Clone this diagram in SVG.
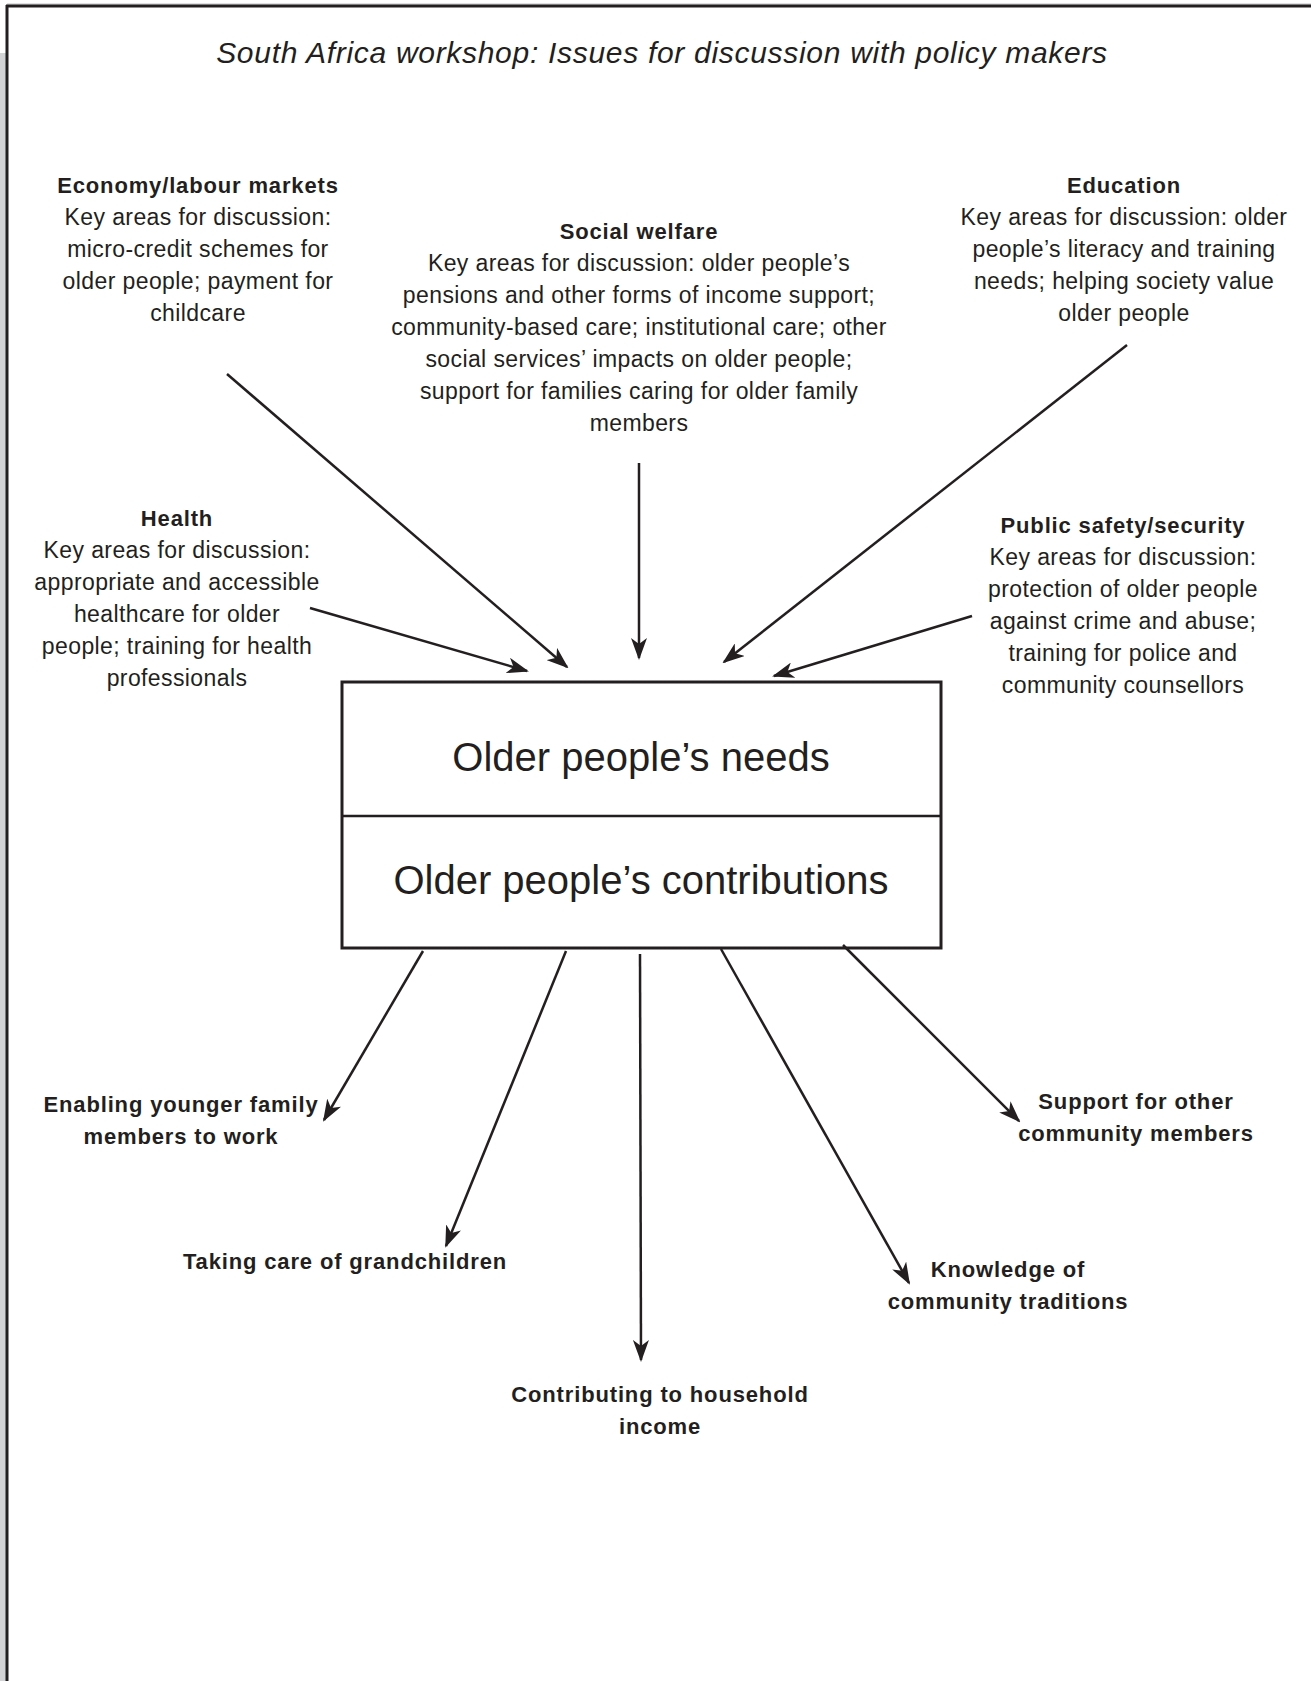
<svg xmlns="http://www.w3.org/2000/svg" width="1311" height="1681" viewBox="0 0 1311 1681">
<style>
text{font-family:"Liberation Sans",Arial,sans-serif;fill:#231f20;text-anchor:middle}
.t{font-size:30px;font-style:italic;letter-spacing:0.7px}
.h{font-size:22px;font-weight:bold;letter-spacing:0.85px}
.b{font-size:23px;letter-spacing:0.4px}
.big{font-size:40px}
.c{stroke:#231f20;stroke-width:2.5;fill:none;marker-end:url(#ah)}
.box{fill:#fff;stroke:#231f20;stroke-width:3}
</style>
<defs>
<marker id="ah" markerUnits="userSpaceOnUse" viewBox="0 0 22 16" refX="20" refY="8" markerWidth="22" markerHeight="16" orient="auto">
<path d="M0,0 L22,8 L0,16 L6,8 Z" fill="#231f20"/>
</marker>
</defs>
<rect width="1311" height="1681" fill="#fff"/>
<g id="frame">
<rect x="0" y="53" width="6" height="1628" fill="#d1d3d4"/>
<line x1="7" y1="4" x2="1311" y2="4" stroke="#bcbec0" stroke-width="1"/>
<line x1="6" y1="6" x2="1311" y2="6" stroke="#231f20" stroke-width="3"/>
<line x1="7" y1="5" x2="7" y2="1681" stroke="#231f20" stroke-width="3"/>
</g>
<g id="title"><text class="t" x="662" y="63">South Africa workshop: Issues for discussion with policy makers</text></g>
<g id="economy">
<text class="h" x="198" y="193">Economy/labour markets</text>
<text class="b" x="198" y="225">Key areas for discussion:</text>
<text class="b" x="198" y="257">micro-credit schemes for</text>
<text class="b" x="198" y="289">older people; payment for</text>
<text class="b" x="198" y="321">childcare</text>
</g>
<g id="social">
<text class="h" x="639" y="239">Social welfare</text>
<text class="b" x="639" y="271">Key areas for discussion: older people’s</text>
<text class="b" x="639" y="303">pensions and other forms of income support;</text>
<text class="b" x="639" y="335">community-based care; institutional care; other</text>
<text class="b" x="639" y="367">social services’ impacts on older people;</text>
<text class="b" x="639" y="399">support for families caring for older family</text>
<text class="b" x="639" y="431">members</text>
</g>
<g id="education">
<text class="h" x="1124" y="193">Education</text>
<text class="b" x="1124" y="225">Key areas for discussion: older</text>
<text class="b" x="1124" y="257">people’s literacy and training</text>
<text class="b" x="1124" y="289">needs; helping society value</text>
<text class="b" x="1124" y="321">older people</text>
</g>
<g id="health">
<text class="h" x="177" y="526">Health</text>
<text class="b" x="177" y="558">Key areas for discussion:</text>
<text class="b" x="177" y="590">appropriate and accessible</text>
<text class="b" x="177" y="622">healthcare for older</text>
<text class="b" x="177" y="654">people; training for health</text>
<text class="b" x="177" y="686">professionals</text>
</g>
<g id="safety">
<text class="h" x="1123" y="533">Public safety/security</text>
<text class="b" x="1123" y="565">Key areas for discussion:</text>
<text class="b" x="1123" y="597">protection of older people</text>
<text class="b" x="1123" y="629">against crime and abuse;</text>
<text class="b" x="1123" y="661">training for police and</text>
<text class="b" x="1123" y="693">community counsellors</text>
</g>
<g id="centre">
<rect class="box" x="342" y="682" width="599" height="266"/>
<line x1="342" y1="816" x2="941" y2="816" stroke="#231f20" stroke-width="2.5"/>
<text class="big" x="641" y="771">Older people’s needs</text>
<text class="big" x="641" y="894">Older people’s contributions</text>
</g>
<g id="enabling">
<text class="h" x="181" y="1112">Enabling younger family</text>
<text class="h" x="181" y="1144">members to work</text>
</g>
<g id="grandchildren"><text class="h" x="345" y="1269">Taking care of grandchildren</text></g>
<g id="household">
<text class="h" x="660" y="1402">Contributing to household</text>
<text class="h" x="660" y="1434">income</text>
</g>
<g id="knowledge">
<text class="h" x="1008" y="1277">Knowledge of</text>
<text class="h" x="1008" y="1309">community traditions</text>
</g>
<g id="support">
<text class="h" x="1136" y="1109">Support for other</text>
<text class="h" x="1136" y="1141">community members</text>
</g>
<g id="connectors">
<line class="c" x1="227" y1="374" x2="567" y2="667"/>
<line class="c" x1="639" y1="463" x2="639" y2="658"/>
<line class="c" x1="1127" y1="345" x2="724" y2="662"/>
<line class="c" x1="310" y1="608" x2="527" y2="671"/>
<line class="c" x1="972" y1="616" x2="774" y2="676"/>
<line class="c" x1="423" y1="951" x2="324" y2="1120"/>
<line class="c" x1="566" y1="951" x2="446" y2="1246"/>
<line class="c" x1="640" y1="954" x2="641" y2="1360"/>
<line class="c" x1="721" y1="949" x2="909" y2="1283"/>
<line class="c" x1="843" y1="945" x2="1019" y2="1121"/>
</g>
</svg>
